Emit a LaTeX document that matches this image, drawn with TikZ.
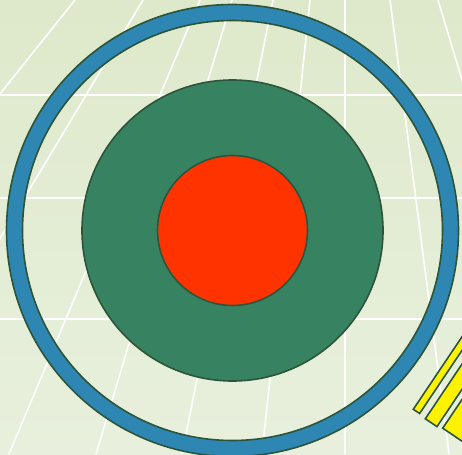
\documentclass[tikz,border=0pt]{standalone}
\definecolor{bgtop}{RGB}{222,233,203}
\definecolor{bgbot}{RGB}{232,240,221}
\definecolor{edge}{RGB}{44,84,58}
\definecolor{ringblue}{RGB}{46,135,178}
\definecolor{discgreen}{RGB}{55,131,97}
\definecolor{coreorange}{RGB}{255,51,0}

\begin{document}
\begin{tikzpicture}[x=1pt,y=-1pt,
 gridline/.style={white,line width=1.6pt},
 rim/.style={draw=edge,line width=1.6pt},
 ring/.style={rim,fill=ringblue,even odd rule},
 disc/.style={rim,fill=discgreen},
 core/.style={rim,fill=coreorange},
 ray/.style={rim,fill=yellow,line join=miter}]
\useasboundingbox (0,0) rectangle (462,454);
\begin{scope}
\clip (0,0) rectangle (462,454);
\shade[top color=bgtop,bottom color=bgbot] (0,0) rectangle (462,454);
% floor grid
\foreach \y in {95,198,319}
  \draw[gridline] (0,\y) -- (462,\y);
\foreach \t/\b in {75/-288,143/-129,200/9,232/96,273/182,310/262,345/345,390/449,438/574}
  \draw[gridline] (\t,0) -- (\b,454);
% target
\coordinate (c) at (232.5,230.5);
\path[ring] (c) circle (226pt) (c) circle (210pt);
\path[disc] (c) circle (150.5pt);
\path[core] (c) circle (75pt);
% rays
\path[ray] (413.3,409.3) -- (419.6,413.5) -- (480.9,322.2) -- (474.6,318.0) -- cycle;
\path[ray] (425.3,418.8) -- (437.0,426.6) -- (498.9,334.3) -- (487.2,326.5) -- cycle;
\path[ray] (442.7,428.2) -- (480.1,453.3) -- (541.4,362.0) -- (504.0,337.0) -- cycle;
\end{scope}
\end{tikzpicture}
\end{document}
